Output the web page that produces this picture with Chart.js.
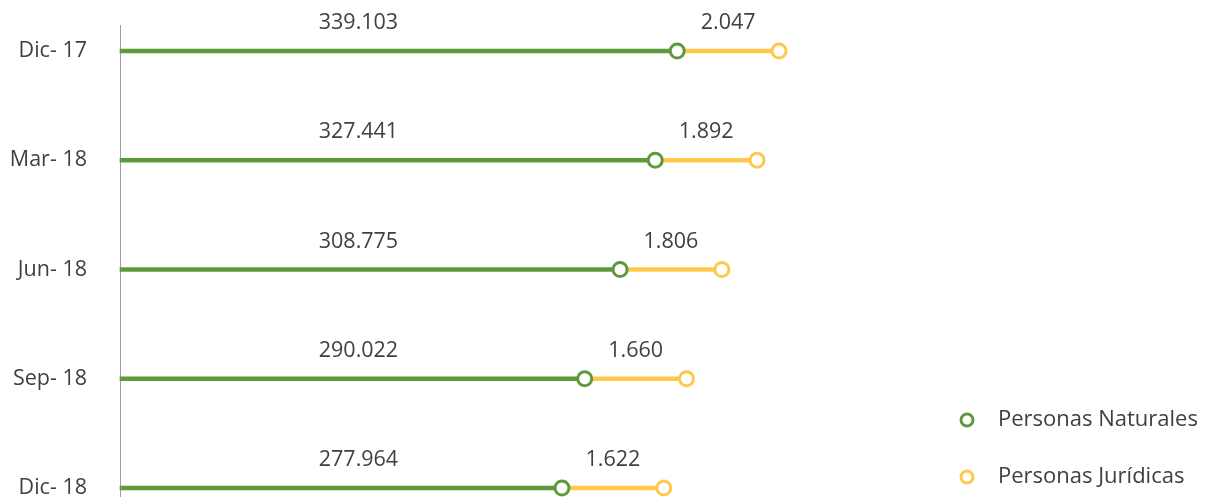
<!DOCTYPE html>
<html>
<head>
<meta charset="utf-8">
<script src="https://cdn.jsdelivr.net/npm/chart.js@4"></script>
<style>
  html, body { margin: 0; padding: 0; background: #fff; }
  #contenedor { width: 1212px; height: 497px; }
</style>
</head>
<body>
<div id="contenedor"><canvas id="graficoClientes"></canvas></div>
<script>
var periodos = ["Dic- 17", "Mar- 18", "Jun- 18", "Sep- 18", "Dic- 18"];
var naturales = [339103, 327441, 308775, 290022, 277964];
var juridicas = [2047, 1892, 1806, 1660, 1622];
var series = ["Personas Naturales", "Personas Jurídicas"];

var verde = "#5e9a3c";
var amarillo = "#ffc84b";
var gris = "#404040";
var fuente = "'Open Sans', Lato, sans-serif";

// eje horizontal (oculto)
var ejeMin = 43500;
var ejeMax = 483800;
// el tramo amarillo tiene largo fijo en el original, no proporcional a su valor
var tramoJuridicas = 54000;
var posEtiquetaNat = 170000;

var finJuridicas = naturales.map(function (v) { return v + tramoJuridicas; });

function formatoMiles(n) {
  return String(n).replace(/\B(?=(\d{3})+(?!\d))/g, ".");
}

var extras = {
  id: "extras",
  beforeDatasetsDraw: function (chart) {
    var ctx = chart.ctx;
    var x0 = Math.round(chart.chartArea.left) + 0.5;
    ctx.save();
    ctx.strokeStyle = "#a0a0a0";
    ctx.lineWidth = 1;
    ctx.beginPath();
    ctx.moveTo(x0, chart.scales.y.getPixelForValue(0) - 26);
    ctx.lineTo(x0, chart.height);
    ctx.stroke();
    ctx.restore();
  },
  afterDatasetsDraw: function (chart) {
    var ctx = chart.ctx;
    var xs = chart.scales.x;
    var ys = chart.scales.y;
    ctx.save();
    ctx.font = "21.5px " + fuente;
    ctx.fillStyle = gris;
    ctx.textAlign = "center";
    ctx.textBaseline = "middle";
    for (let i = 0; i < periodos.length; i++) {
      var yy = ys.getPixelForValue(i) - 28;
      ctx.fillText(formatoMiles(naturales[i]), xs.getPixelForValue(posEtiquetaNat), yy);
      ctx.fillText(formatoMiles(juridicas[i]), xs.getPixelForValue(naturales[i] + tramoJuridicas / 2), yy);
    }

    // leyenda
    var colores = [verde, amarillo];
    var lx = chart.chartArea.right + 17;
    var ly = [chart.height - 77, chart.height - 20];
    ctx.font = "22px " + fuente;
    ctx.textAlign = "left";
    for (let j = 0; j < series.length; j++) {
      ctx.beginPath();
      ctx.arc(lx, ly[j], 6, 0, Math.PI * 2);
      ctx.fillStyle = "#fff";
      ctx.fill();
      ctx.lineWidth = 3;
      ctx.strokeStyle = colores[j];
      ctx.stroke();
      ctx.fillStyle = gris;
      ctx.fillText(series[j], lx + 31, ly[j]);
    }
    ctx.restore();
  }
};

var datosGrafico = {
  labels: periodos,
  datasets: [
    {
      type: "line",
      label: series[0],
      data: naturales,
      indexAxis: "y",
      showLine: false,
      pointRadius: 7,
      pointBorderWidth: 3,
      pointBackgroundColor: "#fff",
      pointBorderColor: verde,
      clip: false,
      order: 1
    },
    {
      type: "line",
      label: series[1],
      data: finJuridicas,
      indexAxis: "y",
      showLine: false,
      pointRadius: 7,
      pointBorderWidth: 3,
      pointBackgroundColor: "#fff",
      pointBorderColor: amarillo,
      clip: false,
      order: 1
    },
    {
      type: "bar",
      label: "tramo naturales",
      data: naturales.map(function (v) { return [ejeMin, v]; }),
      backgroundColor: verde,
      barThickness: 4,
      grouped: false,
      clip: false,
      order: 3
    },
    {
      type: "bar",
      label: "tramo juridicas",
      data: naturales.map(function (v, i) { return [v, finJuridicas[i]]; }),
      backgroundColor: amarillo,
      barThickness: 4,
      grouped: false,
      clip: false,
      order: 3
    }
  ]
};

var config = {
  type: "bar",
  data: datosGrafico,
  options: {
    indexAxis: "y",
    responsive: true,
    maintainAspectRatio: false,
    animation: false,
    events: [],
    layout: { autoPadding: false, padding: { top: 51, bottom: 9, left: 0, right: 262 } },
    plugins: {
      legend: { display: false },
      tooltip: { enabled: false }
    },
    scales: {
      x: {
        type: "linear", display: false, min: ejeMin, max: ejeMax,
        afterFit: function (scale) { scale.height = 0; }
      },
      y: {
        type: "category",
        offset: false,
        grid: { display: false, drawTicks: false },
        border: { display: false },
        ticks: { color: gris, font: { family: fuente, size: 21.5 }, padding: 33 },
        afterFit: function (scale) {
          scale.width = 120;
          scale.paddingTop = 0;
          scale.paddingBottom = 0;
        }
      }
    }
  },
  plugins: [extras]
};

var graficoClientes = new Chart(document.getElementById("graficoClientes"), config);
</script>
</body>
</html>
